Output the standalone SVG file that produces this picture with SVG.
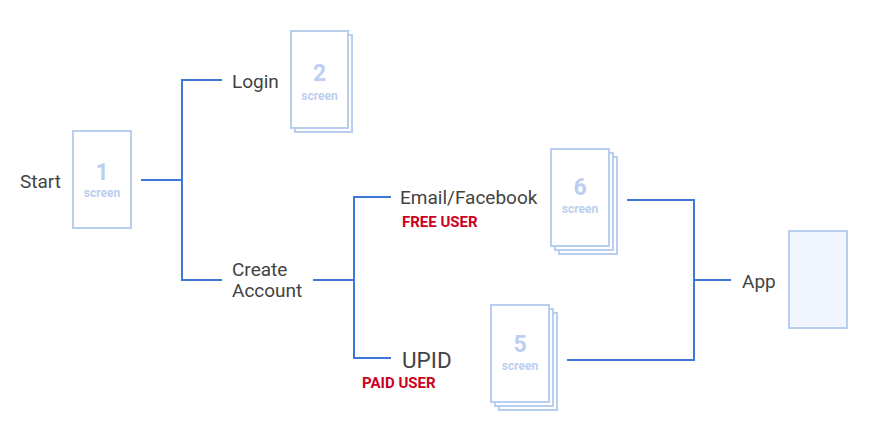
<svg xmlns="http://www.w3.org/2000/svg" width="870" height="434" viewBox="0 0 870 434">
<style>
.scr{fill:#ffffff;stroke:#b9cdef;stroke-width:2}
.num{font-family:Roboto,"Liberation Sans",sans-serif;font-weight:bold;font-size:23px;fill:#bccff0;text-anchor:middle}
.sub{font-family:Roboto,"Liberation Sans",sans-serif;font-weight:bold;font-size:12px;fill:#bccff0;text-anchor:middle}
.lbl{font-family:Roboto,"Liberation Sans",sans-serif;font-size:19px;fill:#434343}
.tag{font-family:Roboto,"Liberation Sans",sans-serif;font-weight:bold;font-size:15px;fill:#cc0022}
.con{fill:none;stroke:#3d78d8;stroke-width:2}
</style>
<rect width="870" height="434" fill="#ffffff"/>
<g id="connectors">
<path class="con" d="M141 180H182"/>
<path class="con" d="M222 80H182V280H222"/>
<path class="con" d="M313 280H354"/>
<path class="con" d="M391 197H354V358H391"/>
<path class="con" d="M627 200H694V360H567"/>
<path class="con" d="M694 280H731"/>
</g>
<g id="start"><text class="lbl" x="20" y="188">Start</text></g>
<g id="screen1">
<rect class="scr" x="73" y="131" width="58" height="97"/>
<text class="num" x="102" y="180">1</text>
<text class="sub" x="102" y="197">screen</text>
</g>
<g id="login"><text class="lbl" x="232" y="88">Login</text></g>
<g id="screen2">
<rect class="scr" x="295" y="35" width="57" height="97"/>
<rect class="scr" x="291" y="31" width="57" height="97"/>
<text class="num" x="319.5" y="81">2</text>
<text class="sub" x="319.5" y="100">screen</text>
</g>
<g id="create"><text class="lbl" x="232" y="276">Create</text><text class="lbl" x="232" y="297">Account</text></g>
<g id="email"><text class="lbl" x="400" y="204">Email/Facebook</text><text class="tag" x="402" y="227">FREE USER</text></g>
<g id="screen6">
<rect class="scr" x="559" y="157" width="58" height="97"/>
<rect class="scr" x="555" y="153" width="58" height="97"/>
<rect class="scr" x="551" y="149" width="58" height="97"/>
<text class="num" x="580" y="195">6</text>
<text class="sub" x="580" y="213">screen</text>
</g>
<g id="upid"><text class="lbl" x="402" y="368" style="font-size:22.5px">UPID</text><text class="tag" x="362" y="388">PAID USER</text></g>
<g id="screen5">
<rect class="scr" x="499" y="313" width="58" height="97"/>
<rect class="scr" x="495" y="309" width="58" height="97"/>
<rect class="scr" x="491" y="305" width="58" height="97"/>
<text class="num" x="520" y="352">5</text>
<text class="sub" x="520" y="370">screen</text>
</g>
<g id="app">
<text class="lbl" x="742" y="288">App</text>
<rect x="789" y="231" width="58" height="97" fill="#f1f6fe" stroke="#b9cdef" stroke-width="2"/>
</g>
</svg>
